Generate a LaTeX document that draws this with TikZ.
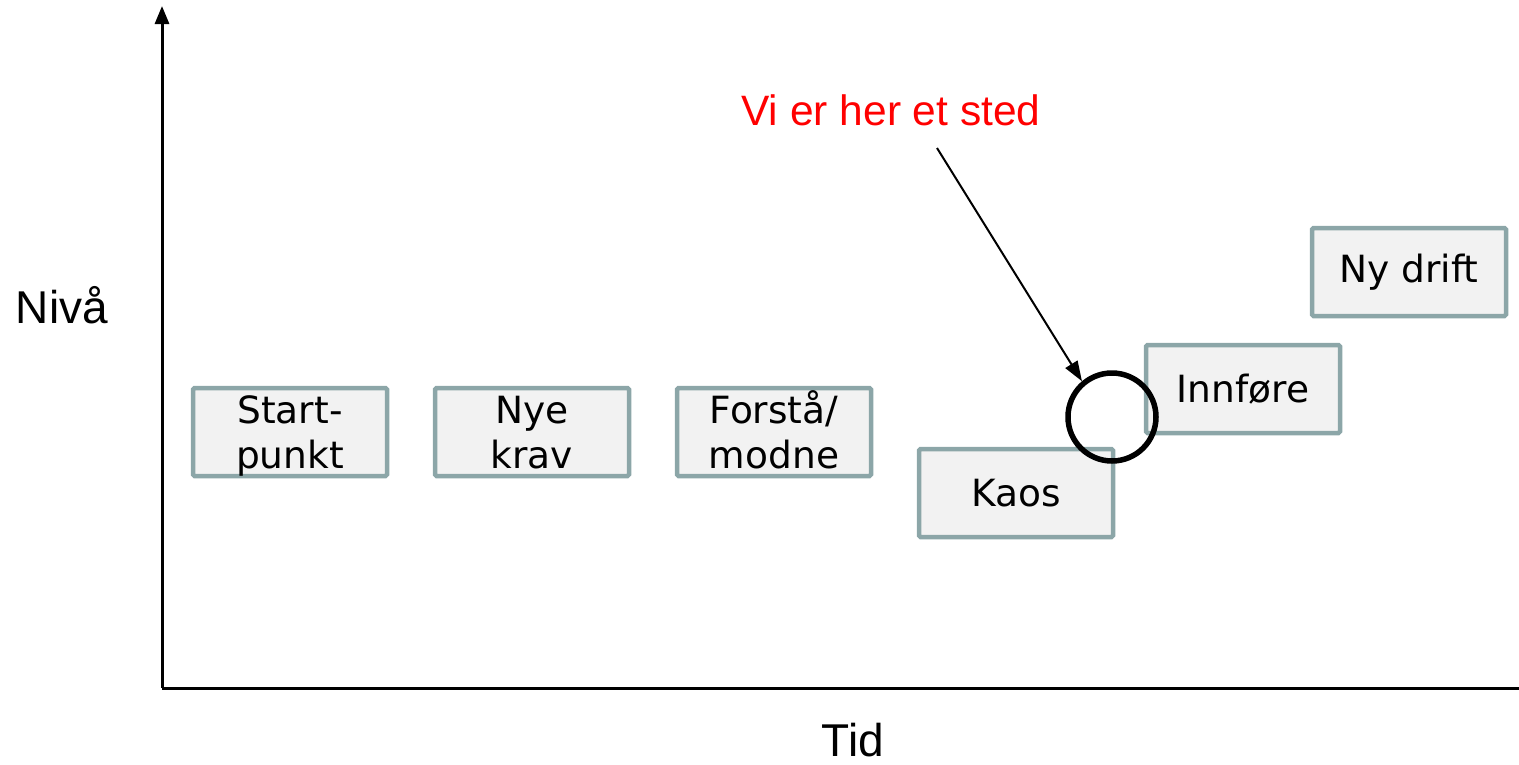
\documentclass[tikz,border=0pt]{standalone}
\usepackage{fontspec}
\setmainfont{Liberation Sans}
\newfontfamily\boxfont{DejaVu Sans}
\usetikzlibrary{arrows.meta}
\definecolor{boxborder}{RGB}{140,166,168}
\definecolor{boxfill}{RGB}{242,242,242}
\tikzset{
  stagebox/.style={draw=boxborder, fill=boxfill, line width=4.5pt, rounded corners=1.5pt,
    minimum width=194pt, minimum height=88pt, inner sep=0pt, align=center,
    font=\boxfont\fontsize{37.5}{45}\selectfont},
  twoline/.style={text height=72pt, text depth=0pt},
  axislabel/.style={font=\fontsize{46}{50}\selectfont, inner sep=0pt},
  axisline/.style={line width=3pt},
}
\begin{document}
\begin{tikzpicture}[x=1pt,y=-1pt]
\useasboundingbox (0,0) rectangle (1519,764);
% axes
\coordinate (origin) at (162,688);
\coordinate (ytop) at (162,6);
\coordinate (xend) at (1525,688);
\draw[axisline, -{Triangle[length=18pt,width=14pt]}] (origin) -- (ytop);
\draw[axisline] (origin) -- (xend);
\node[axislabel] (niva) at (62,305) {Nivå};
\node[axislabel] (tid) at (853,740) {Tid};
% boxes
\node[stagebox, twoline] (start) at (290,432) {Start-\\punkt};
\node[stagebox, twoline] (nye) at (532,432) {Nye\\krav};
\node[stagebox, twoline] (forsta) at (774,432) {Forstå/\\modne};
\node[stagebox] (kaos) at (1016,493) {Kaos};
\node[stagebox] (innfore) at (1243,389) {Innføre};
\node[stagebox] (nydrift) at (1409,272) {Ny drift};
% annotation
\node[font=\fontsize{42.5}{46}\selectfont, text=red, inner sep=0pt] (label) at (891,110) {Vi er her et sted};
\node[draw=black, line width=5.5pt, circle, minimum size=88pt, inner sep=0pt] (ring) at (1112,417) {};
\coordinate (arrstart) at (937,148);
\draw[line width=2pt, -{Triangle[length=20pt,width=14pt]}] (arrstart) -- (ring.130);
\end{tikzpicture}
\end{document}
